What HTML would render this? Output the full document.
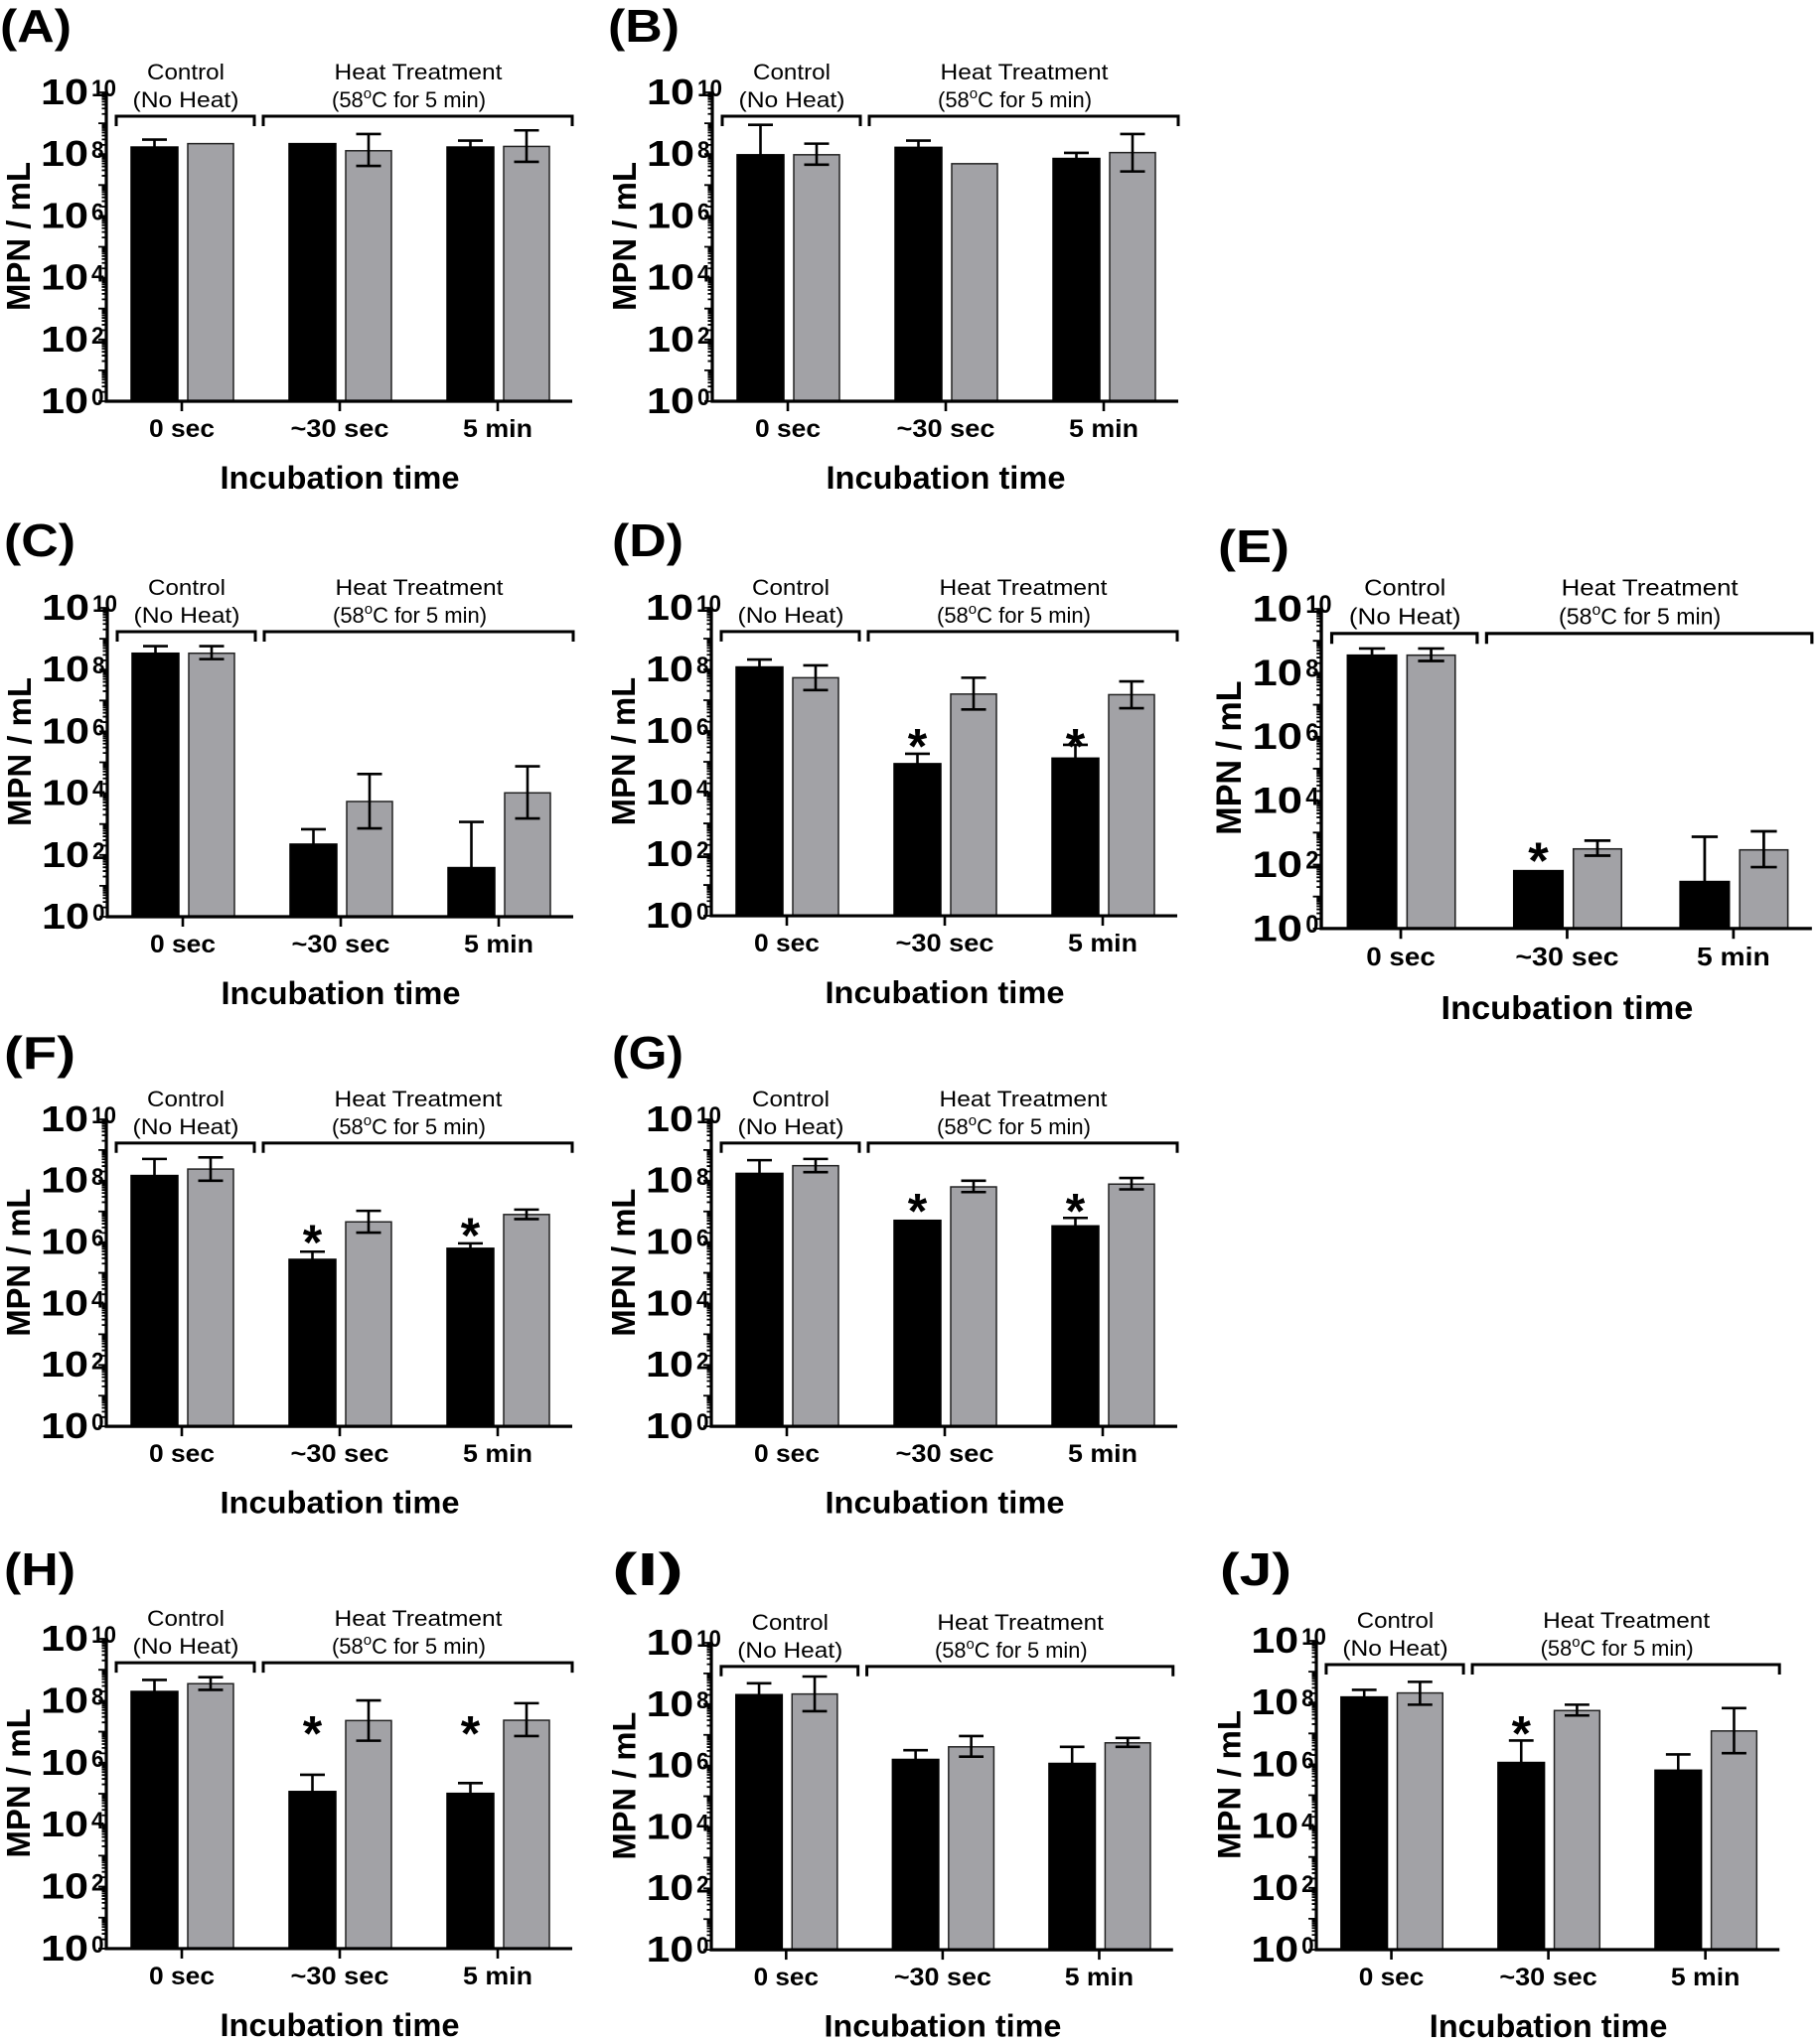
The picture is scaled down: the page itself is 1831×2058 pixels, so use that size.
<!DOCTYPE html>
<html><head><meta charset="utf-8"><title>MPN panels</title>
<style>
html,body{margin:0;padding:0;background:#fff;}
svg{display:block;}
text{font-family:"Liberation Sans",Arial,sans-serif;}
</style></head>
<body>
<svg id="fig" width="1831" height="2058" viewBox="0 0 1831 2058" font-family="Liberation Sans, Arial, sans-serif" xmlns="http://www.w3.org/2000/svg"></svg>
<script>
// ---- data (log10 of MPN/mL) ----
const categories = ['0 sec', '~30 sec', '5 min'];
const yTickExponents = [0, 2, 4, 6, 8, 10];
const panelIds = ['A','B','C','D','E','F','G','H','I','J'];

const blackA=[8.23,8.34,8.23], blackUpA=[8.47,null,8.44], grayA=[8.34,8.11,8.25], grayUpA=[null,8.65,8.77], grayLoA=[null,7.62,7.75], starA=[null,null,null];
const blackB=[7.98,8.22,7.86], blackUpB=[8.95,8.44,8.04], grayB=[7.98,7.69,8.05], grayUpB=[8.34,null,8.65], grayLoB=[7.66,null,7.44], starB=[null,null,null];
const blackC=[8.53,2.35,1.59], blackUpC=[8.76,2.83,3.07], grayC=[8.53,3.73,4.01], grayUpC=[8.76,4.62,4.87], grayLoC=[8.34,2.86,3.18], starC=[null,null,null];
const blackD=[8.08,4.94,5.12], blackUpD=[8.32,5.26,5.55], grayD=[7.73,7.2,7.18], grayUpD=[8.13,7.73,7.61], grayLoD=[7.33,6.7,6.74], starD=[null,5.79,5.79];
const blackE=[8.55,1.81,1.47], blackUpE=[8.76,null,2.87], grayE=[8.55,2.49,2.46], grayUpE=[8.76,2.75,3.04], grayLoE=[8.37,2.28,1.92], starE=[null,2.4,null];
const blackF=[8.17,5.44,5.8], blackUpF=[8.71,5.69,5.96], grayF=[8.38,6.66,6.9], grayUpF=[8.76,7.02,7.06], grayLoF=[8.0,6.31,6.75], starF=[null,6.28,6.5];
const blackG=[8.24,6.71,6.53], blackUpG=[8.67,null,6.79], grayG=[8.49,7.8,7.89], grayUpG=[8.71,8.0,8.09], grayLoG=[8.28,7.63,7.72], starG=[null,7.3,7.3];
const blackH=[8.3,5.07,5.01], blackUpH=[8.67,5.61,5.34], grayH=[8.55,7.36,7.37], grayUpH=[8.76,8.01,7.92], grayLoH=[8.35,6.71,6.86], starH=[null,7.23,7.23];
const blackI=[8.31,6.2,6.07], blackUpI=[8.68,6.5,6.61], grayI=[8.33,6.61,6.74], grayUpI=[8.9,6.96,6.9], grayLoI=[7.77,6.29,6.61], starI=[null,null,null];
const blackJ=[8.18,6.06,5.81], blackUpJ=[8.41,6.77,6.32], grayJ=[8.31,7.74,7.08], grayUpJ=[8.67,7.93,7.82], grayLoJ=[7.93,7.58,6.36], starJ=[null,7.29,null];

const DATA = {
  A:[blackA,blackUpA,grayA,grayUpA,grayLoA,starA], B:[blackB,blackUpB,grayB,grayUpB,grayLoB,starB],
  C:[blackC,blackUpC,grayC,grayUpC,grayLoC,starC], D:[blackD,blackUpD,grayD,grayUpD,grayLoD,starD],
  E:[blackE,blackUpE,grayE,grayUpE,grayLoE,starE], F:[blackF,blackUpF,grayF,grayUpF,grayLoF,starF],
  G:[blackG,blackUpG,grayG,grayUpG,grayLoG,starG], H:[blackH,blackUpH,grayH,grayUpH,grayLoH,starH],
  I:[blackI,blackUpI,grayI,grayUpI,grayLoI,starI], J:[blackJ,blackUpJ,grayJ,grayUpJ,grayLoJ,starJ]
};

// ---- layout (axis origin, scale) ----
const LAYOUT = {
  A:{ax:107,ay:93,sx:1,sy:1, lx:0,ly:42},
  B:{ax:717,ay:93,sx:1,sy:1, lx:612,ly:42},
  C:{ax:108,ay:612,sx:1,sy:1, lx:4,ly:560},
  D:{ax:716,ay:612,sx:1,sy:0.997, lx:616,ly:560},
  E:{ax:1330,ay:613,sx:1.053,sy:1.035, lx:1226,ly:566},
  F:{ax:107,ay:1127,sx:1,sy:0.994, lx:4,ly:1076},
  G:{ax:716,ay:1127,sx:1,sy:0.994, lx:616,ly:1076},
  H:{ax:107,ay:1650,sx:1,sy:1.003, lx:4,ly:1596},
  I:{ax:716,ay:1654,sx:0.991,sy:0.994, lx:616,ly:1596},
  J:{ax:1325,ay:1652,sx:0.994,sy:1, lx:1228,ly:1596}
};
const W = 469, Hh = 311, DEC = Hh/10;
const centers = [76, 235, 394];
const yPos = v => Hh - v*DEC;
const NS = 'http://www.w3.org/2000/svg';
const fig = document.getElementById('fig');

function mk(tag, attrs, parent, txt){
  const e = document.createElementNS(NS, tag);
  for (const k in attrs) e.setAttribute(k, attrs[k]);
  if (txt !== undefined) e.textContent = txt;
  parent.appendChild(e);
  return e;
}

panelIds.forEach(id => {
  const L = LAYOUT[id];
  const [blk, blkUp, gry, gryUp, gryLo, stars] = DATA[id];

  const lab = mk('text', {x:L.lx, y:L.ly, 'font-size':46, 'font-weight':'bold', textLength:72, lengthAdjust:'spacingAndGlyphs'}, fig, '(' + id + ')');
  
  

  const g = mk('g', {transform:`translate(${L.ax},${L.ay}) scale(${L.sx},${L.sy})`}, fig);
  
  

  categories.forEach((c, i) => {
    const cx = centers[i];
    const yb = yPos(blk[i]);
    const rb = mk('rect', {x:cx-51, y:yb, width:47, height:Hh-yb, fill:'#000', stroke:'#000', 'stroke-width':1.5}, g);
    
    
    const yg = yPos(gry[i]);
    const rg = mk('rect', {x:cx+6, y:yg, width:46, height:Hh-yg, fill:'#a2a2a6', stroke:'#222', 'stroke-width':1.5}, g);
    
    
    if (blkUp[i] !== null) {
      const bx = cx-27.5, yu = yPos(blkUp[i]);
      const eb = mk('path', {d:`M${bx},${yb} V${yu} M${bx-12.5},${yu} H${bx+12.5}`, stroke:'#000', 'stroke-width':2.6, fill:'none'}, g);
      
      
    }
    if (gryUp[i] !== null) {
      const gx = cx+29, yu = yPos(gryUp[i]), yl = yPos(gryLo[i]);
      const eg = mk('path', {d:`M${gx},${yl} V${yu} M${gx-12.5},${yu} H${gx+12.5} M${gx-12.5},${yl} H${gx+12.5}`, stroke:'#000', 'stroke-width':2.6, fill:'none'}, g);
      
      
    }
    if (stars[i] !== null) {
      const st = mk('text', {x:cx-27.5, y:yPos(stars[i])+26, 'font-size':50, 'font-weight':'bold', 'text-anchor':'middle'}, g, '*');
      
      
    }
    mk('line', {x1:cx, y1:Hh, x2:cx, y2:Hh+10, stroke:'#000', 'stroke-width':2.6}, g);
    const widths = [66, 99, 70];
    const xl = mk('text', {x:cx, y:347, 'font-size':25, 'font-weight':'bold', 'text-anchor':'middle', textLength:widths[i], lengthAdjust:'spacingAndGlyphs'}, g, c);
    
    
  });

  const ax = mk('path', {d:`M0,0 V${Hh} H${W}`, stroke:'#000', 'stroke-width':3.2, fill:'none'}, g);
  
  
  let tk = '';
  for (let d = 0; d < 10; d++) {
    tk += `M0,${yPos(d)} H-8 `;
    for (let m = 2; m <= 9; m++) { const yy = yPos(d + Math.log10(m)); tk += `M0,${yy.toFixed(2)} H-4.5 `; }
  }
  tk += `M0,${yPos(10)} H-8`;
  const tp = mk('path', {d:tk, stroke:'#000', 'stroke-width':1.8, fill:'none'}, g);
  
  
  yTickExponents.forEach(e => {
    const y = yPos(e);
    const t = mk('text', {x:-18, y:y+12, 'font-size':36, 'font-weight':'bold', 'text-anchor':'end', textLength:48, lengthAdjust:'spacingAndGlyphs'}, g, '10');
    
    
    const s = String(e);
    mk('text', {x:-15, y:y+4, 'font-size':24, 'font-weight':'bold', textLength:s.length*12.5, lengthAdjust:'spacingAndGlyphs'}, g, s);
  });
  const yt = mk('text', {transform:'translate(-77,145) rotate(-90)', 'font-size':33, 'font-weight':'bold', 'text-anchor':'middle', textLength:150, lengthAdjust:'spacingAndGlyphs'}, g, 'MPN / mL');
  
  
  const xt = mk('text', {x:235, y:399, 'font-size':32, 'font-weight':'bold', 'text-anchor':'middle', textLength:241, lengthAdjust:'spacingAndGlyphs'}, g, 'Incubation time');
  
  

  const br1 = mk('path', {d:'M10,34 V24 H149 V34', stroke:'#000', 'stroke-width':3, fill:'none'}, g);
  
  
  const br2 = mk('path', {d:`M158,34 V24 H${W} V34`, stroke:'#000', 'stroke-width':3, fill:'none'}, g);
  
  
  const c1 = mk('text', {x:80, y:-13, 'font-size':22, 'text-anchor':'middle', textLength:78, lengthAdjust:'spacingAndGlyphs'}, g, 'Control');
  
  
  const c2 = mk('text', {x:80, y:15, 'font-size':22, 'text-anchor':'middle', textLength:107, lengthAdjust:'spacingAndGlyphs'}, g, '(No Heat)');
  
  
  const h1 = mk('text', {x:314, y:-13, 'font-size':22, 'text-anchor':'middle', textLength:169, lengthAdjust:'spacingAndGlyphs'}, g, 'Heat Treatment');
  
  
  const h2 = mk('text', {x:227, y:15, 'font-size':22}, g);
  
  
  mk('tspan', {}, h2, '(58');
  mk('tspan', {dy:-9, 'font-size':15}, h2, 'o');
  mk('tspan', {dy:9}, h2, 'C for 5 min)');
});
</script>
</body></html>
